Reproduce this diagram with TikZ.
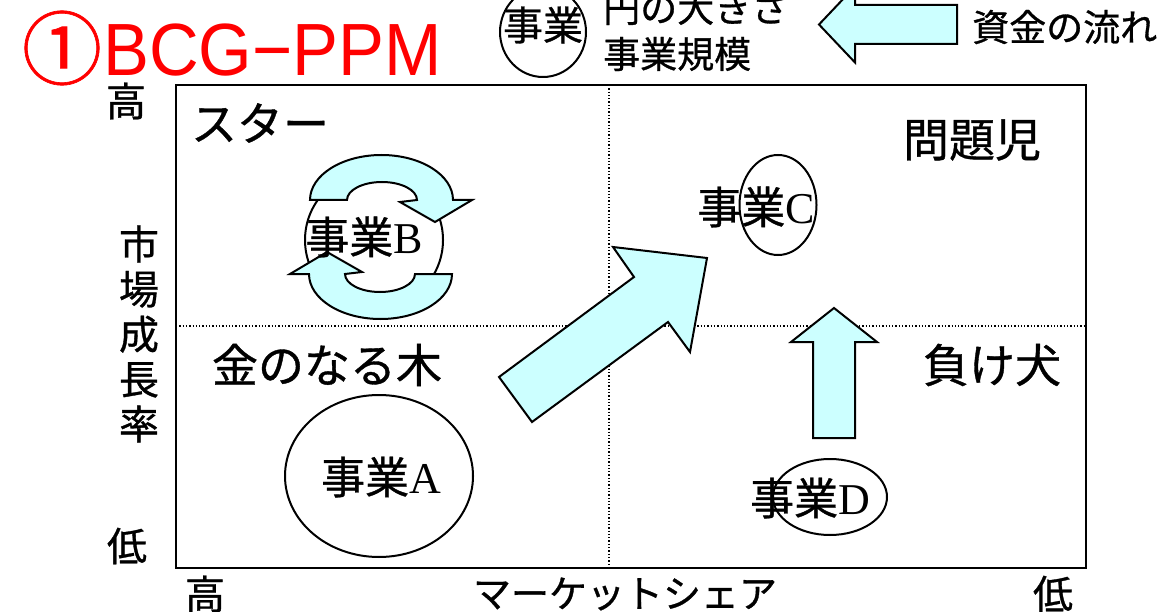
\documentclass[tikz,border=0pt]{standalone}
\usepackage{fontspec}
\setmainfont{Liberation Serif}
\newfontfamily\jp[FakeBold=0.8]{Noto Sans CJK JP}
\newfontfamily\titlefont[FakeStretch=0.93]{Liberation Sans}
\usetikzlibrary{shapes.geometric}
\definecolor{flow}{HTML}{CCFFFF}
\begin{document}
\begin{tikzpicture}[x=1pt,y=-1pt,
  lbl/.style={inner sep=0, font=\jp\fontsize{46}{46}\selectfont},
  axislbl/.style={inner sep=0, font=\jp\fontsize{40}{45}\selectfont},
  legendlbl/.style={inner sep=0, anchor=west, font=\jp\fontsize{37}{37}\selectfont},
  biz/.style={inner sep=0, font=\fontsize{44}{44}\selectfont},
  bubble/.style={draw, line width=2pt, ellipse, inner sep=0},
  flowarrow/.style={draw, line width=2pt, fill=flow, line join=miter},
  divider/.style={dotted, line width=1.3pt}]
\useasboundingbox (0,0) rectangle (1166,612);

% title
\node[inner sep=0, text=red, font=\jp\fontsize{80}{80}\selectfont] (circ1) at (62,48) {①};
\node[inner sep=0, anchor=base west, text=red, font=\titlefont\fontsize{74}{74}\selectfont] (title) at (103,76) {BCG−PPM};

% legend
\node[bubble, minimum width=86, minimum height=90] (legbubble) at (543,32) {};
\node[inner sep=0, font=\jp\fontsize{40}{40}\selectfont] (legtext) at (543,25) {事業};
\node[legendlbl] (legsize) at (603,8) {円の大きさ};
\node[legendlbl] (legscale) at (603,54) {事業規模};
\draw[flowarrow] (819,24.5) -- (855,-13.5) -- (855,5) -- (957,5) -- (957,44) -- (855,44) -- (855,62.5) -- cycle;
\node[legendlbl] (legflow) at (972,27) {資金の流れ};

% matrix frame
\draw[divider] (609,85) -- (609,568);
\draw[divider] (176,326) -- (1086,326);
\draw[line width=2.5pt] (176,85) rectangle (1086,568);

% axes
\node[axislbl] (yhigh) at (126,101) {高};
\node[axislbl, align=center] (ylabel) at (139,334) {市\\場\\成\\長\\率};
\node[axislbl] (ylow) at (127,546) {低};
\node[axislbl] (xhigh) at (205,594) {高};
\node[axislbl, font=\jp\fontsize{38}{38}\selectfont] (xlabel) at (625,594) {マーケットシェア};
\node[axislbl] (xlow) at (1053,594) {低};

% quadrant labels
\node[lbl] (star) at (260,123) {スター};
\node[lbl] (problem) at (972,140) {問題児};
\node[lbl] (cash) at (327,365) {金のなる木};
\node[lbl] (dog) at (992,365) {負け犬};

% business A
\node[bubble, minimum width=188, minimum height=162] (bubA) at (379,476) {};
\node[biz] (bizA) at (381,477) {{\jp 事業}A};

% business B with circulating arrows
\node[bubble, minimum width=138, minimum height=138] (bubB) at (374,240) {};
\draw[flowarrow] (310,200) arc[start angle=180, end angle=360, x radius=71.5, y radius=45]
  -- (472,200) -- (435,222) -- (400,202) -- (417,200)
  arc[start angle=0, end angle=-180, x radius=35, y radius=18] -- cycle;
\begin{scope}[rotate around={180:(381,237)}]
\draw[flowarrow] (310,200) arc[start angle=180, end angle=360, x radius=71.5, y radius=45]
  -- (472,200) -- (435,222) -- (400,202) -- (417,200)
  arc[start angle=0, end angle=-180, x radius=35, y radius=18] -- cycle;
\end{scope}
\node[biz] (bizB) at (364,237) {{\jp 事業}B};

% business C
\node[bubble, minimum width=77, minimum height=100] (bubC) at (778,205) {};
\node[biz] (bizC) at (756,207) {{\jp 事業}C};

% business D
\node[bubble, minimum width=114, minimum height=76] (bubD) at (830,497) {};
\node[biz] (bizD) at (810,498) {{\jp 事業}D};

% flow arrows
\draw[flowarrow] (499,377) -- (634,277) -- (613,247) -- (707,258) -- (690,352) -- (668,322) -- (532,422) -- cycle;
\draw[flowarrow] (834,308) -- (877,342) -- (855,342) -- (855,438) -- (813,438) -- (813,342) -- (791,342) -- cycle;
\end{tikzpicture}
\end{document}
